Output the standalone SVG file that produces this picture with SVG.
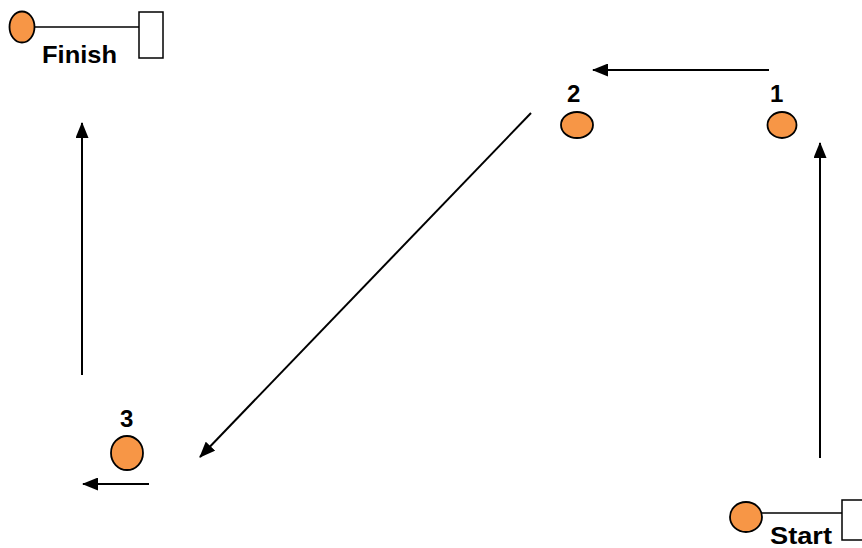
<svg xmlns="http://www.w3.org/2000/svg" width="862" height="548" viewBox="0 0 862 548">
<style>
.dot{fill:#F79646;stroke:#000;stroke-width:1.8}
.lbl{font-family:"Liberation Sans",Arial,sans-serif;font-weight:bold;font-size:24px;fill:#000}
.flag{fill:#fff;stroke:#000;stroke-width:1.5}
.pole{stroke:#000;stroke-width:1.5;fill:none}
.arr{stroke:#000;stroke-width:2;fill:none;marker-end:url(#ah)}
</style>
<defs>
<marker id="ah" markerUnits="userSpaceOnUse" viewBox="0 0 16 13" refX="15" refY="6.5" markerWidth="16" markerHeight="13" orient="auto">
<path d="M0,0 L16,6.5 L0,13 z" fill="#000"/>
</marker>
</defs>
<rect width="862" height="548" fill="#fff"/>
<g id="finish">
<line class="pole" x1="34" y1="27" x2="139" y2="27"/>
<rect class="flag" x="139" y="12" width="24" height="46"/>
<ellipse class="dot" cx="22" cy="27" rx="12.5" ry="15.5"/>
<text class="lbl" x="42" y="63" textLength="75" lengthAdjust="spacingAndGlyphs">Finish</text>
</g>
<g id="start">
<line class="pole" x1="761" y1="513" x2="842" y2="513"/>
<rect class="flag" x="842" y="500" width="30" height="40"/>
<ellipse class="dot" cx="746" cy="517" rx="16" ry="15"/>
<text class="lbl" x="770" y="544" textLength="62" lengthAdjust="spacingAndGlyphs">Start</text>
</g>
<g id="n1">
<ellipse class="dot" cx="782" cy="125" rx="14.5" ry="13"/>
<text class="lbl" x="770" y="102">1</text>
</g>
<g id="n2">
<ellipse class="dot" cx="577" cy="125" rx="16" ry="13"/>
<text class="lbl" x="567" y="102">2</text>
</g>
<g id="n3">
<ellipse class="dot" cx="127" cy="453" rx="16" ry="17"/>
<text class="lbl" x="120" y="427">3</text>
</g>
<g id="connectors">
<line class="arr" x1="820" y1="458" x2="820" y2="143"/>
<line class="arr" x1="769" y1="70" x2="593" y2="70"/>
<line class="arr" x1="531" y1="113" x2="200" y2="457"/>
<line class="arr" x1="149" y1="484" x2="83" y2="484"/>
<line class="arr" x1="82" y1="375" x2="82" y2="123"/>
</g>
</svg>
